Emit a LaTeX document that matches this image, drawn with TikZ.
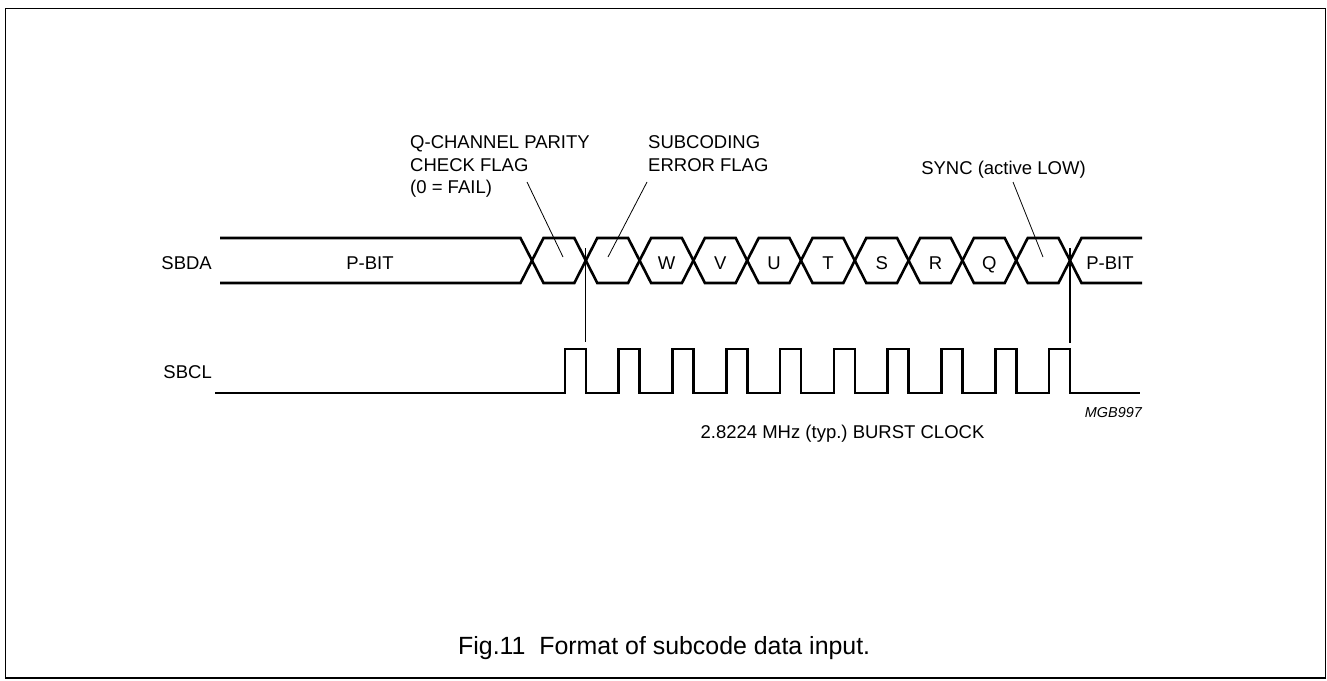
\documentclass[tikz,border=0pt]{standalone}
\usepackage{fontspec}
\setmainfont{Liberation Sans}
\frenchspacing
\begin{document}
\begin{tikzpicture}[x=1pt,y=-1pt,
  lbl/.style={inner sep=0pt, font=\fontsize{18.5}{22}\selectfont},
  wave/.style={line width=2.6pt, line join=miter, line cap=butt},
  leader/.style={line width=0.8pt},
  marker/.style={line width=1.1pt}]
\useasboundingbox (0,0) rectangle (1327,680);
\draw[line width=1.6pt] (5.5,8.5) rectangle (1325.5,678);
\def\ya{238}\def\yb{283}\def\ym{260.5}\def\hw{11.5}
% SBDA bus
\draw[wave] (220,\ya) -- ({532-\hw},\ya) -- (532,\ym) -- ({532-\hw},\yb) -- (220,\yb);
\foreach \k in {0,...,9}{
  \pgfmathsetmacro{\ca}{532+53.8*\k}
  \pgfmathsetmacro{\cb}{532+53.8*(\k+1)}
  \draw[wave] (\ca,\ym) -- ({\ca+\hw},\ya) -- ({\cb-\hw},\ya) -- (\cb,\ym) -- ({\cb-\hw},\yb) -- ({\ca+\hw},\yb) -- cycle;
}
\draw[wave] (1142,\ya) -- ({1070+\hw},\ya) -- (1070,\ym) -- ({1070+\hw},\yb) -- (1142,\yb);
% SBCL clock
\draw[wave] (215,393) \foreach \k in {1,...,10}{ -- ({532+53.8*\k-21},393) -- ++(0,-44) -- ++(21,0) -- ++(0,44) } -- (1140,393);
% markers
\coordinate (m1a) at (585.8,248); \coordinate (m1b) at (585.8,342);
\coordinate (m2a) at (1070,248); \coordinate (m2b) at (1070,343);
\draw[marker] (m1a) -- (m1b);
\draw[marker] (m2a) -- (m2b);
% labels
\node[lbl, anchor=base east] (sbda) at (212,269) {SBDA};
\node[lbl, anchor=base east] (sbcl) at (212,378) {SBCL};
\node[lbl, anchor=base] (pb1) at (370,269) {P-BIT};
\node[lbl, anchor=base] (pb2) at (1110,269) {P-BIT};
\foreach \t [count=\i from 2] in {W,V,U,T,S,R,Q}{
  \node[lbl, anchor=base] (bit\i) at ({532+53.8*\i+26.9},269) {\t};
}
\node[lbl, anchor=base west] (q1) at (410,148.3) {Q-CHANNEL PARITY};
\node[lbl, anchor=base west] (q2) at (410,171) {CHECK FLAG};
\node[lbl, anchor=base west] (q3) at (410,193.5) {(0 = FAIL)};
\node[lbl, anchor=base west] (s1) at (648,148.3) {SUBCODING};
\node[lbl, anchor=base west] (s2) at (648,171) {ERROR FLAG};
\node[lbl, anchor=base] (sync) at (1003.5,174.5) {SYNC (active LOW)};
\coordinate (qa) at (527,182); \coordinate (qb) at (563,257);
\coordinate (sa) at (647,182); \coordinate (sb) at (608,257);
\coordinate (ya) at (1013,182); \coordinate (yb) at (1043,257);
\draw[leader] (qa) -- (qb);
\draw[leader] (sa) -- (sb);
\draw[leader] (ya) -- (yb);
\node[inner sep=0pt, anchor=base east, font=\fontsize{14.4}{17}\selectfont\itshape] (mgb) at (1142,417) {MGB997};
\node[lbl, anchor=base] (burst) at (842.5,438) {2.8224 MHz (typ.) BURST CLOCK};
\node[inner sep=0pt, anchor=base west, font=\fontsize{24.9}{29}\selectfont] (cap) at (458,654) {Fig.11\ \ Format of subcode data input.};
\end{tikzpicture}
\end{document}
